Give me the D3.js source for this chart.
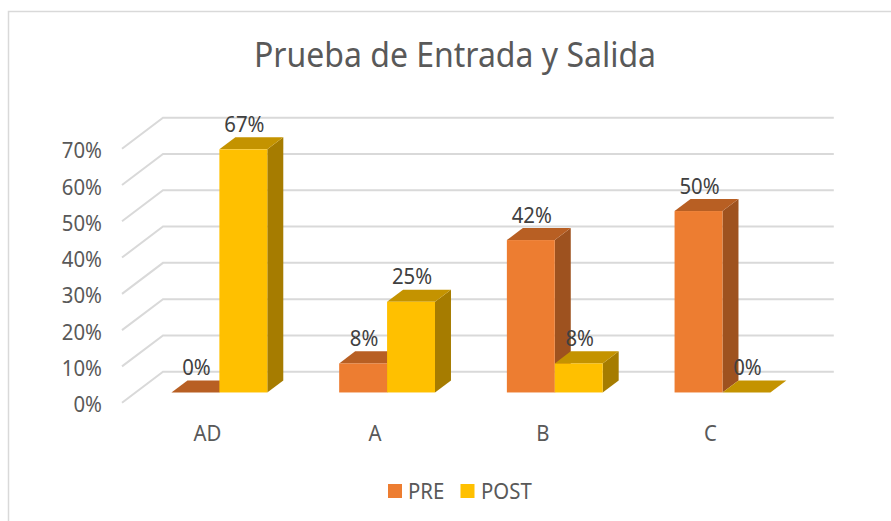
<!DOCTYPE html>
<html>
<head>
<meta charset="utf-8">
<script src="https://cdn.jsdelivr.net/npm/d3@7"></script>
<style>
html,body{margin:0;padding:0;background:#fff;}
svg{display:block;}
text{font-family:"Noto Sans","Open Sans",sans-serif;}
</style>
</head>
<body>
<svg id="c" width="891" height="521"></svg>
<script>
const titleText = "Prueba de Entrada y Salida";
const categories = ["AD", "A", "B", "C"];
const seriesNames = ["PRE", "POST"];
const preValues = [0, 0.08, 0.42, 0.50];
const postValues = [0.67, 0.25, 0.08, 0];
const yTicks = [0, 0.1, 0.2, 0.3, 0.4, 0.5, 0.6, 0.7];
const faceColors = ["#ED7D31", "#FFC000"];
const sideColors = ["#9E521F", "#A67C00"];
const topColors = ["#B85F23", "#C49300"];

const svg = d3.select("#c");
const W = 891, H = 521;
const depthX = 41, depthY = -31;
const proj = (x, y, d) => [x + depthX * d, y + depthY * d];
const frontD = 0.33, backD = 0.72;
const k = 0.925;
const condense = sel => sel.each(function () {
  this.setAttribute("textLength", this.getComputedTextLength() * k);
  this.setAttribute("lengthAdjust", "spacingAndGlyphs");
});

const x = d3.scaleBand().domain(categories).range([122, 122 + 4 * 167.7]);
const inner = d3.scaleBand().domain(seriesNames).range([0, x.bandwidth()]).paddingOuter(0.75);
const y = d3.scaleLinear().domain([0, 0.7]).range([402.7, 148.7]);
const pct = d3.format(".0%");

// frame
svg.append("path")
  .attr("d", d3.line()([[8.5, H], [8.5, 11.5], [W, 11.5]]))
  .attr("fill", "none").attr("stroke", "#D9D9D9").attr("stroke-width", 1.5);

// title
svg.append("text").attr("x", 455).attr("y", 67).attr("text-anchor", "middle")
  .attr("font-size", 34).attr("fill", "#595959")
  .attr("textLength", 402).attr("lengthAdjust", "spacingAndGlyphs").text(titleText);

// gridlines: side wall + back wall
const gridG = svg.append("g");
yTicks.forEach(t => {
  const a = proj(122, y(t), 0), b = proj(122, y(t), 1), c = proj(122 + 4 * 167.7, y(t), 1);
  gridG.append("path").attr("d", d3.line()([a, b, c]))
    .attr("fill", "none").attr("stroke", "#D9D9D9").attr("stroke-width", 2);
});

// y axis labels
const yAxis = svg.append("g").attr("transform", "translate(102,2)")
  .call(d3.axisLeft(y).tickValues(yTicks).tickFormat(pct).tickSize(0).tickPadding(0));
yAxis.select(".domain").remove();
yAxis.selectAll("text").attr("font-size", 22).attr("fill", "#595959")
  .style("font-family", '"Noto Sans"').call(condense);

// x axis labels
const xAxis = svg.append("g").attr("transform", "translate(1.5,433)")
  .call(d3.axisBottom(x).tickSize(0).tickPadding(0));
xAxis.select(".domain").remove();
xAxis.selectAll("text").attr("dy", "0.35em").attr("y", 0).attr("font-size", 22).attr("fill", "#595959")
  .style("font-family", '"Noto Sans"').call(condense);

// bars
const barsG = svg.append("g");
const labelsG = svg.append("g");
const poly = pts => "M" + pts.map(p => p.join(",")).join("L") + "Z";
categories.forEach((cat, i) => {
  [preValues, postValues].forEach((vals, s) => {
    const v = vals[i];
    const x0 = x(cat) + inner(seriesNames[s]);
    const x1 = x0 + inner.bandwidth();
    const yT = y(v), yB = y(0);
    const [fx0, fyT] = proj(x0, yT, frontD);
    const [fx1, fyB] = proj(x1, yB, frontD);
    const [bx0, byT] = proj(x0, yT, backD);
    const [bx1, byB] = proj(x1, yB, backD);
    barsG.append("path").attr("d", poly([[fx1, fyT], [bx1, byT], [bx1, byB], [fx1, fyB]])).attr("fill", sideColors[s]);
    barsG.append("path").attr("d", poly([[fx0, fyT], [bx0, byT], [bx1, byT], [fx1, fyT]])).attr("fill", topColors[s]);
    barsG.append("rect").attr("x", fx0).attr("y", fyT).attr("width", fx1 - fx0).attr("height", fyB - fyT).attr("fill", faceColors[s]);
    labelsG.append("text").attr("x", (fx0 + fx1) / 2 + 1).attr("y", fyT - 25).attr("dy", "0.35em")
      .attr("text-anchor", "middle").attr("font-size", 22).attr("fill", "#404040")
      .text(pct(v)).call(condense);
  });
});

// legend
const legendItems = [
  {sx: 388, tx: 408},
  {sx: 460.5, tx: 481}
];
seriesNames.forEach((n, i) => {
  const l = legendItems[i];
  svg.append("rect").attr("x", l.sx).attr("y", 484).attr("width", 14).attr("height", 14).attr("fill", faceColors[i]);
  svg.append("text").attr("x", l.tx).attr("y", 491).attr("dy", "0.35em").attr("font-size", 22).attr("fill", "#595959")
    .text(n).call(condense);
});
</script>
</body>
</html>
